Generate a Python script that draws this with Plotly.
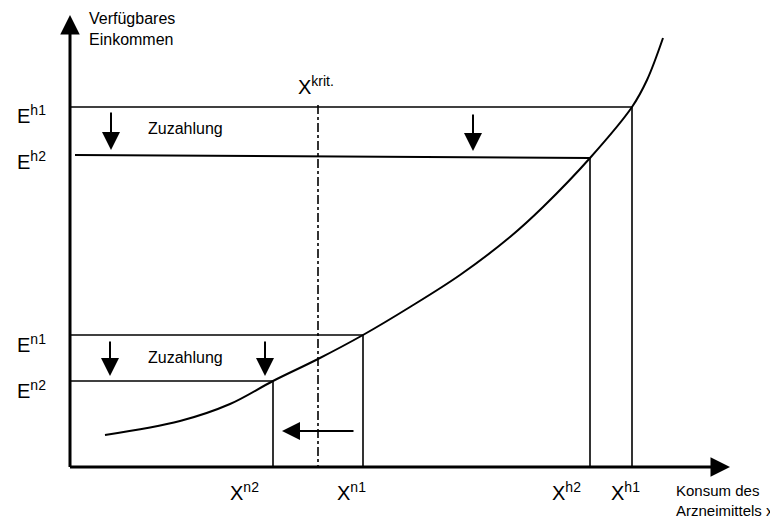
import plotly.graph_objects as go

# ---- data (schematic units; origin = axes crossing) ----
curve_x = [35, 110, 160, 203, 248, 293, 340, 390, 440, 473, 520, 562, 577, 593]
curve_y = [32, 46, 63, 86, 108, 132, 160, 192, 230, 260, 309, 360, 387, 429]

E_h1 = 360
E_h2_start, E_h2_end = 312, 309
E_n1 = 132
E_n2 = 86
X_n2, X_krit, X_n1, X_h2, X_h1 = 203, 248, 293, 520, 562

x_labels = ["X<sup>n2</sup>", "X<sup>n1</sup>", "X<sup>h2</sup>", "X<sup>h1</sup>"]
e_labels = ["E<sup>h1</sup>", "E<sup>h2</sup>", "E<sup>n1</sup>", "E<sup>n2</sup>"]

FONT = "Liberation Sans, Arial, sans-serif"
BLACK = "#000000"

fig = go.Figure()

def seg(x0, y0, x1, y1, w=1.6, dash="solid"):
    fig.add_trace(go.Scatter(x=[x0, x1], y=[y0, y1], mode="lines",
                             line=dict(color=BLACK, width=w, dash=dash),
                             hoverinfo="skip", showlegend=False))

# horizontal income lines
seg(0, E_h1, X_h1, E_h1)
seg(5, E_h2_start, X_h2, E_h2_end, w=2)
seg(0, E_n1, X_n1, E_n1)
seg(0, E_n2, X_n2, E_n2)
# vertical drop lines
seg(X_h1, E_h1, X_h1, 0)
seg(X_h2, E_h2_end, X_h2, 0)
seg(X_n1, E_n1, X_n1, 0)
seg(X_n2, E_n2, X_n2, 0)
# critical consumption (dash-dot)
seg(X_krit, 362, X_krit, 0, w=1.6, dash="dashdot")

# curve
fig.add_trace(go.Scatter(x=curve_x, y=curve_y, mode="lines",
                         line=dict(color=BLACK, width=2, shape="spline", smoothing=1.0),
                         hoverinfo="skip", showlegend=False))

# axes lines with arrows
def arrow(x_tip, y_tip, x_tail, y_tail, w=2, size=1.6):
    fig.add_annotation(x=x_tip, y=y_tip, ax=x_tail, ay=y_tail,
                       xref="x", yref="y", axref="x", ayref="y",
                       text="", showarrow=True, arrowhead=2,
                       arrowsize=size, arrowwidth=w, arrowcolor=BLACK)

arrow(0, 452, 0, -1.5, w=3, size=1.3)
arrow(660, 0, -1.5, 0, w=3, size=1.3)

# shift arrows
arrow(41, 317, 41, 356, size=1.8)
arrow(403, 316, 403, 354, size=1.8)
arrow(40, 91, 40, 127, size=1.8)
arrow(195, 91, 195, 127, size=1.8)
arrow(212, 36, 285, 36, size=1.8)

def label(x, y, text, size=20, xanchor="center", align="center"):
    fig.add_annotation(x=x, y=y, xref="x", yref="y", text=text, showarrow=False,
                       font=dict(family=FONT, size=size, color=BLACK),
                       xanchor=xanchor, yanchor="middle", align=align)

# E labels
for lab, yy in zip(e_labels, [E_h1 - 7, E_h2_start - 5, E_n1 - 8, E_n2 - 8]):
    label(-55, yy, lab, xanchor="left")
# X labels
for lab, xx in zip(x_labels, [X_n2 - 29, X_n1 - 12, X_h2 - 24, X_h1 - 7]):
    label(xx, -24, lab)
label(X_krit - 2, 382, "X<sup>krit.</sup>")

label(76, 339, "Zuzahlung", size=16, xanchor="left")
label(76, 110, "Zuzahlung", size=16, xanchor="left")

label(17, 438, "Verfügbares<br>Einkommen", size=16, xanchor="left", align="left")
label(604, -33, "Konsum des<br>Arzneimittels x", size=15, xanchor="left", align="left")

# page body has an 8px margin: size the figure so it ends at the window edge
fig.update_layout(
    width=770, height=510,
    margin=dict(l=0, r=0, t=0, b=0),
    paper_bgcolor="white", plot_bgcolor="white",
    xaxis=dict(range=[-62, 708], visible=False, fixedrange=True),
    yaxis=dict(range=[-51, 459], visible=False, fixedrange=True),
    showlegend=False,
)

fig.write_html("out.html")
